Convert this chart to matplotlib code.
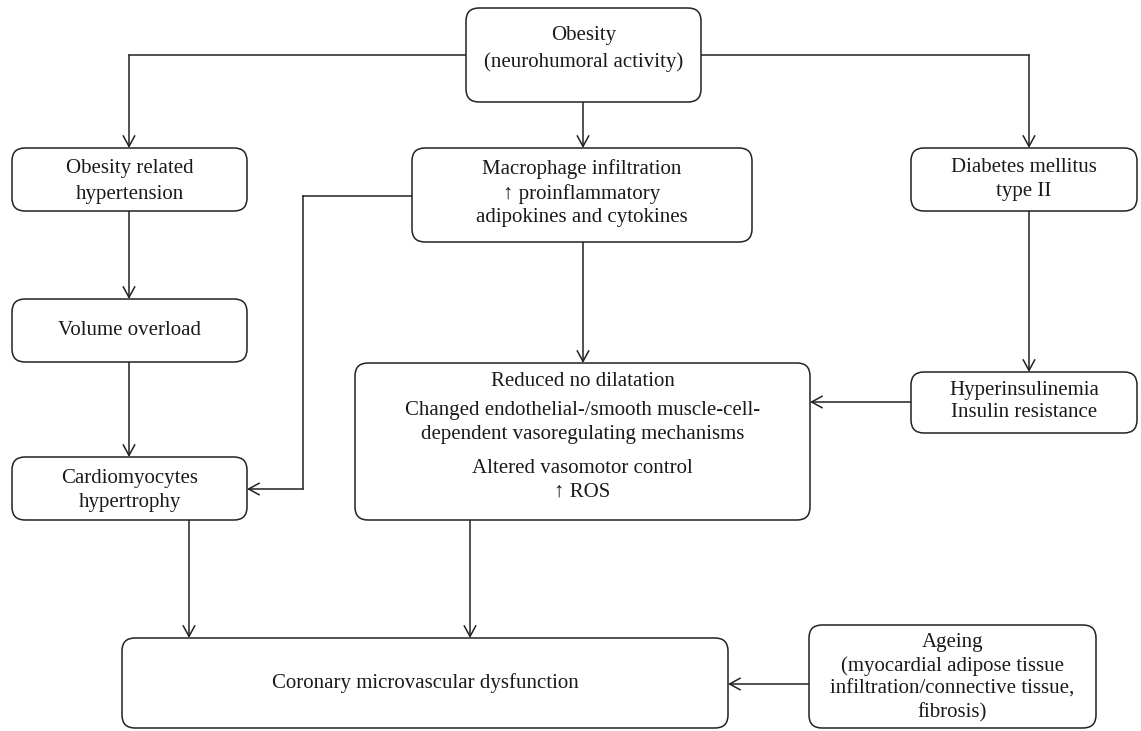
import matplotlib
matplotlib.use("Agg")
import matplotlib.pyplot as plt
from matplotlib.patches import FancyBboxPatch

# ---- content ----
labels = {
    "obesity": "Obesity\n(neurohumoral activity)",
    "htn": "Obesity related\nhypertension",
    "macro": "Macrophage infiltration\n\u2191 proinflammatory\nadipokines and cytokines",
    "dm": "Diabetes mellitus\ntype II",
    "vol": "Volume overload",
    "hyper": "Hyperinsulinemia\nInsulin resistance",
    "cardio": "Cardiomyocytes\nhypertrophy",
    "coronary": "Coronary microvascular dysfunction",
    "ageing": "Ageing\n(myocardial adipose tissue\ninfiltration/connective tissue,\nfibrosis)",
}
reduced_paragraphs = [
    "Reduced no dilatation",
    "Changed endothelial-/smooth muscle-cell-\ndependent vasoregulating mechanisms",
    "Altered vasomotor control\n\u2191 ROS",
]

# ---- layout (pixel coords: x0, y0, x1, y1) ----
W, H = 1141, 731
boxes = {
    "obesity": (466, 8, 701, 102),
    "htn": (12, 148, 247, 211),
    "macro": (412, 148, 752, 242),
    "dm": (911, 148, 1137, 211),
    "vol": (12, 299, 247, 362),
    "reduced": (355, 363, 810, 520),
    "hyper": (911, 372, 1137, 433),
    "cardio": (12, 457, 247, 520),
    "coronary": (122, 638, 728, 728),
    "ageing": (809, 625, 1096, 728),
}
text_y = {"obesity": 49, "htn": 181, "macro": 193, "dm": 179.5,
          "cardio": 490.5, "hyper": 401.5, "ageing": 677.5, "coronary": 683}
line_sp = {"obesity": 1.5, "htn": 1.5, "hyper": 1.26, "ageing": 1.28}
reduced_text_y = [382, 422.5, 480]

# connectors: polylines, arrow at the end
connectors = [
    [(466, 55), (129, 55), (129, 148)],
    [(701, 55), (1029, 55), (1029, 148)],
    [(583, 102), (583, 148)],
    [(129, 211), (129, 299)],
    [(129, 362), (129, 457)],
    [(412, 196), (303, 196), (303, 489), (247, 489)],
    [(583, 242), (583, 363)],
    [(1029, 211), (1029, 372)],
    [(911, 402), (810, 402)],
    [(189, 520), (189, 638)],
    [(470, 520), (470, 638)],
    [(809, 684), (728, 684)],
]

FONT = ["Liberation Serif", "DejaVu Serif"]
FS = 15
LW = 1.1
INK = "#1a1a1a"

fig = plt.figure(figsize=(W / 100, H / 100), dpi=100)
ax = fig.add_axes([0, 0, 1, 1])
ax.set_xlim(0, W)
ax.set_ylim(H, 0)
ax.axis("off")

for key, (x0, y0, x1, y1) in boxes.items():
    p = FancyBboxPatch((x0, y0), x1 - x0, y1 - y0,
                       boxstyle="round,pad=0,rounding_size=13",
                       fc="white", ec="#222222", lw=LW, zorder=2)
    ax.add_patch(p)
    cx = (x0 + x1) / 2
    if key == "reduced":
        for para, ty in zip(reduced_paragraphs, reduced_text_y):
            ax.text(cx, ty, para, ha="center", va="center", fontsize=FS,
                    family=FONT, linespacing=1.34, color=INK, zorder=3)
    else:
        cy = text_y.get(key, (y0 + y1) / 2)
        ax.text(cx, cy, labels[key], ha="center", va="center", fontsize=FS,
                family=FONT, linespacing=line_sp.get(key, 1.34), color=INK,
                zorder=3)

for pts in connectors:
    for (xa, ya), (xb, yb) in zip(pts[:-2], pts[1:-1]):
        ax.plot([xa, xb], [ya, yb], color="#222222", lw=LW,
                solid_capstyle="projecting", zorder=1)
    (xa, ya), (xb, yb) = pts[-2], pts[-1]
    ax.annotate("", xy=(xb, yb), xytext=(xa, ya),
                arrowprops=dict(arrowstyle="->,head_length=0.55,head_width=0.3",
                                color="#222222", lw=LW, shrinkA=0, shrinkB=0,
                                mutation_scale=14),
                zorder=1)

fig.savefig("out.png", dpi=100, facecolor="white")
